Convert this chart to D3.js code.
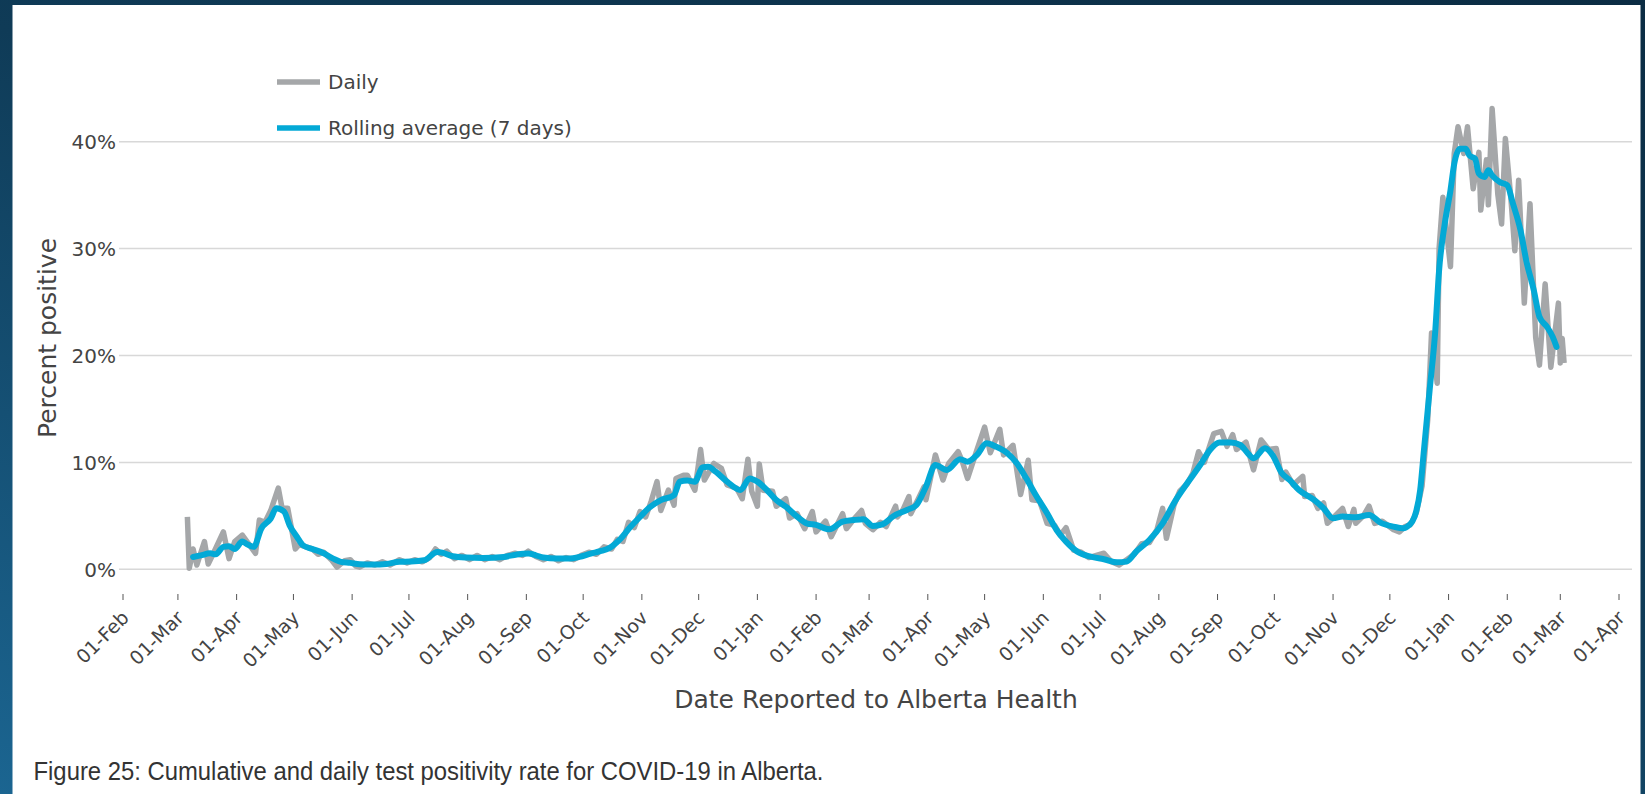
<!DOCTYPE html>
<html>
<head>
<meta charset="utf-8">
<script src="https://cdn.jsdelivr.net/npm/d3@7"></script>
<style>
  html, body { margin: 0; padding: 0; }
  body {
    width: 1645px; height: 794px; overflow: hidden;
    background: linear-gradient(200deg, #0b2c43 0%, #0f3b57 45%, #1b6591 100%);
  }
  svg { display: block; }
</style>
</head>
<body>
<svg id="chart" width="1645" height="794"></svg>
<script>
// Daily positivity (%), [date, value]
const dailyData = [
  ["2020-03-06", 4.9], ["2020-03-07", 0.1], ["2020-03-09", 1.9], ["2020-03-11", 0.4],
  ["2020-03-15", 2.6], ["2020-03-17", 0.5], ["2020-03-20", 1.6], ["2020-03-25", 3.5],
  ["2020-03-28", 1.0], ["2020-03-31", 2.6], ["2020-04-04", 3.2], ["2020-04-06", 2.7],
  ["2020-04-11", 1.5], ["2020-04-13", 4.6], ["2020-04-16", 4.4], ["2020-04-19", 5.5],
  ["2020-04-23", 7.6], ["2020-04-25", 5.7], ["2020-04-28", 5.7], ["2020-05-02", 1.9],
  ["2020-05-04", 2.3], ["2020-05-11", 1.9], ["2020-05-14", 1.4], ["2020-05-17", 1.6],
  ["2020-05-21", 0.9], ["2020-05-24", 0.2], ["2020-05-28", 0.8], ["2020-05-31", 0.9],
  ["2020-06-03", 0.3], ["2020-06-05", 0.2], ["2020-06-09", 0.6], ["2020-06-13", 0.4],
  ["2020-06-17", 0.7], ["2020-06-21", 0.4], ["2020-06-26", 0.9], ["2020-06-30", 0.6],
  ["2020-07-04", 0.9], ["2020-07-08", 0.7], ["2020-07-12", 1.1], ["2020-07-15", 1.9],
  ["2020-07-18", 1.4], ["2020-07-21", 1.7], ["2020-07-25", 1.0], ["2020-07-29", 1.3],
  ["2020-08-02", 0.9], ["2020-08-06", 1.3], ["2020-08-10", 0.9], ["2020-08-14", 1.2],
  ["2020-08-18", 0.9], ["2020-08-22", 1.3], ["2020-08-26", 1.5], ["2020-08-30", 1.3],
  ["2020-09-02", 1.7], ["2020-09-06", 1.2], ["2020-09-10", 0.9], ["2020-09-14", 1.2],
  ["2020-09-18", 0.8], ["2020-09-22", 1.1], ["2020-09-26", 0.9], ["2020-09-30", 1.3],
  ["2020-10-04", 1.6], ["2020-10-08", 1.4], ["2020-10-12", 2.1], ["2020-10-16", 1.9],
  ["2020-10-19", 2.8], ["2020-10-22", 2.6], ["2020-10-25", 4.4], ["2020-10-28", 3.9],
  ["2020-10-31", 5.4], ["2020-11-03", 4.9], ["2020-11-06", 6.4], ["2020-11-09", 8.2],
  ["2020-11-11", 5.5], ["2020-11-15", 7.4], ["2020-11-18", 6.0], ["2020-11-19", 8.5],
  ["2020-11-23", 8.8], ["2020-11-25", 8.8], ["2020-11-29", 7.4], ["2020-12-02", 11.2],
  ["2020-12-04", 8.35], ["2020-12-09", 9.9], ["2020-12-13", 9.45], ["2020-12-16", 7.9],
  ["2020-12-21", 7.6], ["2020-12-24", 6.6], ["2020-12-27", 10.3], ["2020-12-29", 7.3],
  ["2021-01-01", 5.9], ["2021-01-02", 9.85], ["2021-01-04", 7.4], ["2021-01-09", 7.3],
  ["2021-01-11", 5.9], ["2021-01-16", 6.6], ["2021-01-18", 4.8], ["2021-01-22", 5.2],
  ["2021-01-26", 3.8], ["2021-01-30", 5.4], ["2021-02-01", 3.5], ["2021-02-06", 4.5],
  ["2021-02-09", 3.05], ["2021-02-15", 5.2], ["2021-02-17", 3.8], ["2021-02-21", 4.7],
  ["2021-02-25", 5.5], ["2021-02-27", 4.3], ["2021-03-03", 3.7], ["2021-03-07", 4.4],
  ["2021-03-10", 4.0], ["2021-03-15", 5.9], ["2021-03-16", 4.9], ["2021-03-19", 5.6],
  ["2021-03-22", 6.8], ["2021-03-23", 5.2], ["2021-03-27", 6.6], ["2021-03-30", 7.7],
  ["2021-03-31", 6.5], ["2021-04-05", 10.7], ["2021-04-09", 8.35], ["2021-04-12", 9.9],
  ["2021-04-17", 11.0], ["2021-04-19", 10.2], ["2021-04-22", 8.5], ["2021-04-27", 11.2],
  ["2021-05-01", 13.3], ["2021-05-04", 10.9], ["2021-05-09", 13.1], ["2021-05-11", 10.7],
  ["2021-05-16", 11.6], ["2021-05-20", 7.0], ["2021-05-24", 10.2], ["2021-05-26", 6.5],
  ["2021-05-30", 6.4], ["2021-06-03", 4.3], ["2021-06-07", 4.1], ["2021-06-10", 3.2],
  ["2021-06-13", 3.9], ["2021-06-17", 1.8], ["2021-06-21", 1.6], ["2021-06-25", 1.1],
  ["2021-06-29", 1.3], ["2021-07-03", 1.5], ["2021-07-07", 0.7], ["2021-07-11", 0.4],
  ["2021-07-15", 0.9], ["2021-07-19", 1.4], ["2021-07-23", 2.4], ["2021-07-27", 2.5],
  ["2021-07-31", 3.7], ["2021-08-03", 5.7], ["2021-08-05", 2.9], ["2021-08-09", 6.0],
  ["2021-08-12", 7.3], ["2021-08-16", 8.0], ["2021-08-19", 9.0], ["2021-08-22", 11.0],
  ["2021-08-25", 10.0], ["2021-08-30", 12.7], ["2021-09-03", 12.9], ["2021-09-06", 11.5],
  ["2021-09-09", 12.6], ["2021-09-11", 11.2], ["2021-09-16", 11.9], ["2021-09-20", 9.3],
  ["2021-09-24", 12.1], ["2021-09-28", 11.2], ["2021-10-02", 11.3], ["2021-10-05", 8.4],
  ["2021-10-07", 9.1], ["2021-10-11", 7.9], ["2021-10-16", 8.7], ["2021-10-17", 6.8],
  ["2021-10-21", 6.9], ["2021-10-24", 5.7], ["2021-10-27", 6.2], ["2021-10-29", 4.3],
  ["2021-11-01", 4.8], ["2021-11-06", 5.7], ["2021-11-09", 4.0], ["2021-11-12", 5.6],
  ["2021-11-13", 4.3], ["2021-11-17", 5.0], ["2021-11-20", 5.9], ["2021-11-23", 4.3],
  ["2021-11-27", 4.5], ["2021-11-30", 4.1], ["2021-12-03", 3.7], ["2021-12-06", 3.5],
  ["2021-12-09", 4.0], ["2021-12-12", 4.2], ["2021-12-15", 5.3], ["2021-12-18", 7.8],
  ["2021-12-21", 14.0], ["2021-12-23", 22.1], ["2021-12-26", 17.4], ["2021-12-27", 30.0],
  ["2021-12-29", 34.8], ["2022-01-02", 28.3], ["2022-01-04", 38.9], ["2022-01-06", 41.4],
  ["2022-01-09", 38.9], ["2022-01-11", 41.4], ["2022-01-14", 35.6], ["2022-01-17", 39.0],
  ["2022-01-18", 33.6], ["2022-01-21", 38.3], ["2022-01-22", 34.1], ["2022-01-24", 43.1],
  ["2022-01-27", 35.1], ["2022-01-29", 32.3], ["2022-01-31", 40.3], ["2022-02-03", 34.5],
  ["2022-02-05", 29.8], ["2022-02-07", 36.4], ["2022-02-10", 24.9], ["2022-02-13", 34.2],
  ["2022-02-16", 21.7], ["2022-02-18", 19.1], ["2022-02-21", 26.7], ["2022-02-24", 18.9],
  ["2022-02-28", 24.9], ["2022-03-01", 19.3], ["2022-03-02", 21.6], ["2022-03-03", 19.3]
];

// 7-day rolling average (%), [date, value]
const rollingData = [
  ["2020-03-09", 1.15], ["2020-03-13", 1.3], ["2020-03-18", 1.5], ["2020-03-21", 1.4],
  ["2020-03-25", 2.1], ["2020-03-28", 2.15], ["2020-03-31", 1.9], ["2020-04-04", 2.6],
  ["2020-04-06", 2.4], ["2020-04-10", 2.1], ["2020-04-14", 3.8], ["2020-04-19", 4.75],
  ["2020-04-22", 5.7], ["2020-04-26", 5.4], ["2020-04-29", 4.1], ["2020-05-03", 3.0],
  ["2020-05-06", 2.25], ["2020-05-11", 1.9], ["2020-05-17", 1.5], ["2020-05-22", 1.0],
  ["2020-05-26", 0.7], ["2020-05-31", 0.6], ["2020-06-05", 0.47], ["2020-06-12", 0.45],
  ["2020-06-19", 0.5], ["2020-06-26", 0.7], ["2020-07-02", 0.72], ["2020-07-09", 0.84],
  ["2020-07-16", 1.63], ["2020-07-19", 1.53], ["2020-07-24", 1.22], ["2020-07-31", 1.1],
  ["2020-08-09", 1.06], ["2020-08-20", 1.16], ["2020-08-27", 1.38], ["2020-09-02", 1.47],
  ["2020-09-06", 1.31], ["2020-09-10", 1.1], ["2020-09-17", 1.0], ["2020-09-24", 1.0],
  ["2020-09-29", 1.16], ["2020-10-05", 1.47], ["2020-10-10", 1.69], ["2020-10-15", 2.0],
  ["2020-10-20", 2.72], ["2020-10-26", 3.97], ["2020-10-31", 4.9], ["2020-11-05", 5.78],
  ["2020-11-11", 6.47], ["2020-11-18", 6.94], ["2020-11-21", 8.2], ["2020-11-25", 8.3],
  ["2020-11-29", 8.2], ["2020-12-03", 9.54], ["2020-12-06", 9.6], ["2020-12-10", 9.13],
  ["2020-12-16", 8.2], ["2020-12-23", 7.42], ["2020-12-28", 8.5], ["2021-01-01", 8.2],
  ["2021-01-06", 7.42], ["2021-01-11", 6.48], ["2021-01-16", 5.86], ["2021-01-22", 4.93],
  ["2021-01-27", 4.3], ["2021-02-01", 4.15], ["2021-02-08", 3.74], ["2021-02-15", 4.46],
  ["2021-02-21", 4.61], ["2021-02-26", 4.68], ["2021-03-03", 4.05], ["2021-03-08", 4.2],
  ["2021-03-14", 4.99], ["2021-03-21", 5.55], ["2021-03-26", 6.02], ["2021-03-31", 7.73],
  ["2021-04-05", 9.76], ["2021-04-11", 9.29], ["2021-04-18", 10.3], ["2021-04-22", 10.07],
  ["2021-04-27", 10.7], ["2021-05-02", 11.79], ["2021-05-07", 11.47], ["2021-05-13", 10.85],
  ["2021-05-18", 9.92], ["2021-05-23", 8.51], ["2021-05-28", 6.95], ["2021-06-03", 5.24],
  ["2021-06-08", 3.68], ["2021-06-13", 2.59], ["2021-06-19", 1.65], ["2021-06-26", 1.18],
  ["2021-07-03", 0.94], ["2021-07-10", 0.65], ["2021-07-15", 0.72], ["2021-07-20", 1.65],
  ["2021-07-27", 2.74], ["2021-08-03", 4.3], ["2021-08-10", 6.49], ["2021-08-17", 8.3],
  ["2021-08-23", 9.8], ["2021-08-28", 11.16], ["2021-09-02", 11.85], ["2021-09-08", 11.85],
  ["2021-09-13", 11.63], ["2021-09-17", 10.85], ["2021-09-20", 10.38], ["2021-09-26", 11.32],
  ["2021-09-30", 10.7], ["2021-10-05", 8.98], ["2021-10-09", 8.36], ["2021-10-14", 7.42],
  ["2021-10-22", 6.49], ["2021-10-27", 5.71], ["2021-11-01", 4.77], ["2021-11-06", 4.93],
  ["2021-11-13", 4.86], ["2021-11-20", 5.08], ["2021-11-26", 4.37], ["2021-12-03", 3.99],
  ["2021-12-08", 3.84], ["2021-12-11", 4.1], ["2021-12-14", 4.9], ["2021-12-17", 7.4],
  ["2021-12-19", 11.15], ["2021-12-22", 16.76], ["2021-12-25", 22.37], ["2021-12-27", 27.98],
  ["2021-12-30", 32.34], ["2022-01-02", 35.45], ["2022-01-04", 37.94], ["2022-01-07", 39.35],
  ["2022-01-10", 39.35], ["2022-01-12", 38.72], ["2022-01-15", 38.41], ["2022-01-17", 37.01],
  ["2022-01-20", 36.7], ["2022-01-22", 37.32], ["2022-01-24", 36.85], ["2022-01-28", 36.23],
  ["2022-02-01", 35.92], ["2022-02-04", 34.2], ["2022-02-08", 31.71], ["2022-02-11", 28.91],
  ["2022-02-15", 26.11], ["2022-02-18", 23.61], ["2022-02-22", 22.68], ["2022-02-25", 21.74],
  ["2022-02-27", 20.81]
];

const yTicks = [0, 10, 20, 30, 40];
const xStart = "2020-02-01";
const xEnd = "2022-04-01";
const legendLabels = ["Daily", "Rolling average (7 days)"];
const seriesColors = ["#a5a7a9", "#03a9d6"];

const parseDate = d3.timeParse("%Y-%m-%d");
const daily = dailyData.map(d => ({ date: parseDate(d[0]), value: d[1] }));
const rolling = rollingData.map(d => ({ date: parseDate(d[0]), value: d[1] }));

const svg = d3.select("#chart");
const font = "'DejaVu Sans', Verdana, sans-serif";
const textColor = "#444";

// white panel
svg.append("rect")
  .attr("x", 12.5).attr("y", 5)
  .attr("width", 1628).attr("height", 800)
  .attr("fill", "#fff");

const plotLeft = 119, plotRight = 1632;

const x = d3.scaleTime()
  .domain([parseDate(xStart), parseDate(xEnd)])
  .range([123, 1619]);

const y = d3.scaleLinear()
  .domain([0, 40])
  .range([569.3, 141.7]);

// gridlines
svg.append("g").selectAll("line")
  .data(yTicks)
  .join("line")
  .attr("x1", plotLeft).attr("x2", plotRight)
  .attr("y1", d => y(d)).attr("y2", d => y(d))
  .attr("stroke", "#d8d8d8")
  .attr("stroke-width", 1.5);

// y tick labels
svg.append("g").selectAll("text")
  .data(yTicks)
  .join("text")
  .attr("x", 116)
  .attr("y", d => y(d))
  .attr("dy", "0.36em")
  .attr("text-anchor", "end")
  .attr("font-family", font)
  .attr("font-size", 20)
  .attr("fill", textColor)
  .text(d => d + "%");

// x axis ticks and labels
const months = d3.timeMonth.range(parseDate(xStart), d3.timeDay.offset(parseDate(xEnd), 1));
const fmt = d3.timeFormat("%d-%b");
const xg = svg.append("g");
xg.selectAll("line")
  .data(months)
  .join("line")
  .attr("x1", d => x(d)).attr("x2", d => x(d))
  .attr("y1", 594).attr("y2", 600)
  .attr("stroke", "#555")
  .attr("stroke-width", 1);
xg.selectAll("text")
  .data(months)
  .join("text")
  .attr("transform", d => `translate(${x(d) + 7},${619}) rotate(-45)`)
  .attr("text-anchor", "end")
  .attr("font-family", font)
  .attr("font-size", 19)
  .attr("fill", textColor)
  .text(d => fmt(d));

// series
const line = d3.line()
  .x(d => x(d.date))
  .y(d => y(d.value));

svg.append("path")
  .datum(daily)
  .attr("d", line)
  .attr("fill", "none")
  .attr("stroke", seriesColors[0])
  .attr("stroke-width", 5.5)
  .attr("stroke-linejoin", "round");

svg.append("path")
  .datum(rolling)
  .attr("d", line.curve(d3.curveMonotoneX))
  .attr("fill", "none")
  .attr("stroke", seriesColors[1])
  .attr("stroke-width", 6)
  .attr("stroke-linejoin", "round")
  .attr("stroke-linecap", "round");

// legend
const legend = svg.append("g");
legendLabels.forEach((label, i) => {
  const ly = 82 + i * 46;
  legend.append("line")
    .attr("x1", 277).attr("x2", 320)
    .attr("y1", ly).attr("y2", ly)
    .attr("stroke", seriesColors[i])
    .attr("stroke-width", 5.5);
  legend.append("text")
    .attr("x", 328).attr("y", ly)
    .attr("dy", "0.36em")
    .attr("font-family", font)
    .attr("font-size", 20)
    .attr("fill", textColor)
    .text(label);
});

// axis titles
svg.append("text")
  .attr("x", 876).attr("y", 708)
  .attr("text-anchor", "middle")
  .attr("font-family", font)
  .attr("font-size", 25)
  .attr("fill", textColor)
  .text("Date Reported to Alberta Health");

svg.append("text")
  .attr("transform", "translate(56,338) rotate(-90)")
  .attr("text-anchor", "middle")
  .attr("font-family", font)
  .attr("font-size", 25)
  .attr("fill", textColor)
  .text("Percent positive");

// caption
svg.append("text")
  .attr("x", 33.5).attr("y", 780)
  .attr("font-family", "'Liberation Sans Narrow', 'Liberation Sans', Arial, sans-serif")
  .attr("font-size", 25)
  .attr("textLength", 790)
  .attr("lengthAdjust", "spacingAndGlyphs")
  .attr("fill", "#333")
  .text("Figure 25: Cumulative and daily test positivity rate for COVID-19 in Alberta.");
</script>
</body>
</html>
